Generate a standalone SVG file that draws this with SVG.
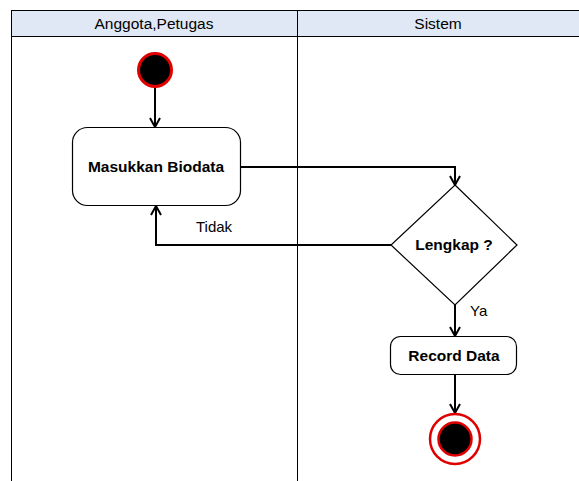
<svg xmlns="http://www.w3.org/2000/svg" width="579" height="481" viewBox="0 0 579 481">
<defs>
<style>
.lane{fill:#ffffff;stroke:#000;stroke-width:1}
.hdr{fill:#dfe8f4;stroke:#000;stroke-width:1}
.ht{font-family:"Liberation Sans",Arial,sans-serif;font-size:15.5px;fill:#000;text-anchor:middle}
.node{fill:#fff;stroke:#000;stroke-width:1.2}
.nt{font-family:"Liberation Sans",Arial,sans-serif;font-size:15.5px;font-weight:bold;fill:#000;text-anchor:middle}
.lbl{font-family:"Liberation Sans",Arial,sans-serif;font-size:15px;fill:#000}
.conn{fill:none;stroke:#000;stroke-width:2}
</style>
<marker id="arr" viewBox="0 0 12 12" refX="10" refY="6" markerWidth="12" markerHeight="12" markerUnits="userSpaceOnUse" orient="auto">
<path d="M1,1 L10,6 L1,11" fill="none" stroke="#000" stroke-width="2"/>
</marker>
</defs>
<rect width="579" height="481" fill="#fff"/>
<g id="lanes">
<rect class="lane" x="11.5" y="10.5" width="580" height="480"/>
<rect class="hdr" x="11.5" y="10.5" width="286" height="26"/>
<rect class="hdr" x="297.5" y="10.5" width="290" height="26"/>
<line x1="297.5" y1="36.5" x2="297.5" y2="481" stroke="#000" stroke-width="1"/>
<text class="ht" x="154" y="29">Anggota,Petugas</text>
<text class="ht" x="438" y="29">Sistem</text>
</g>
<g id="connectors">
<path class="conn" d="M155,87 V127" marker-end="url(#arr)"/>
<path class="conn" d="M241,167 H455 V185" marker-end="url(#arr)"/>
<path class="conn" d="M391,245 H156 V206" marker-end="url(#arr)"/>
<path class="conn" d="M455,305 V336" marker-end="url(#arr)"/>
<path class="conn" d="M455,375 V413" marker-end="url(#arr)"/>
<text class="lbl" x="196" y="232">Tidak</text>
<text class="lbl" x="470" y="316">Ya</text>
</g>
<g id="start">
<circle cx="155" cy="70" r="16.5" fill="#000" stroke="#e00000" stroke-width="3"/>
</g>
<g id="masukkan">
<rect class="node" x="72.5" y="127.5" width="168" height="78" rx="15"/>
<text class="nt" x="156" y="172">Masukkan Biodata</text>
</g>
<g id="lengkap">
<polygon class="node" points="455,185 517,245 455,305 391,245"/>
<text class="nt" x="454" y="250">Lengkap ?</text>
</g>
<g id="record">
<rect class="node" x="390.5" y="336.5" width="126" height="38" rx="10"/>
<text class="nt" x="454" y="361">Record Data</text>
</g>
<g id="end">
<circle cx="455" cy="439" r="25" fill="#fff" stroke="#e00000" stroke-width="2.5"/>
<circle cx="455" cy="439" r="16.5" fill="#000" stroke="#e00000" stroke-width="2.5"/>
</g>
</svg>
